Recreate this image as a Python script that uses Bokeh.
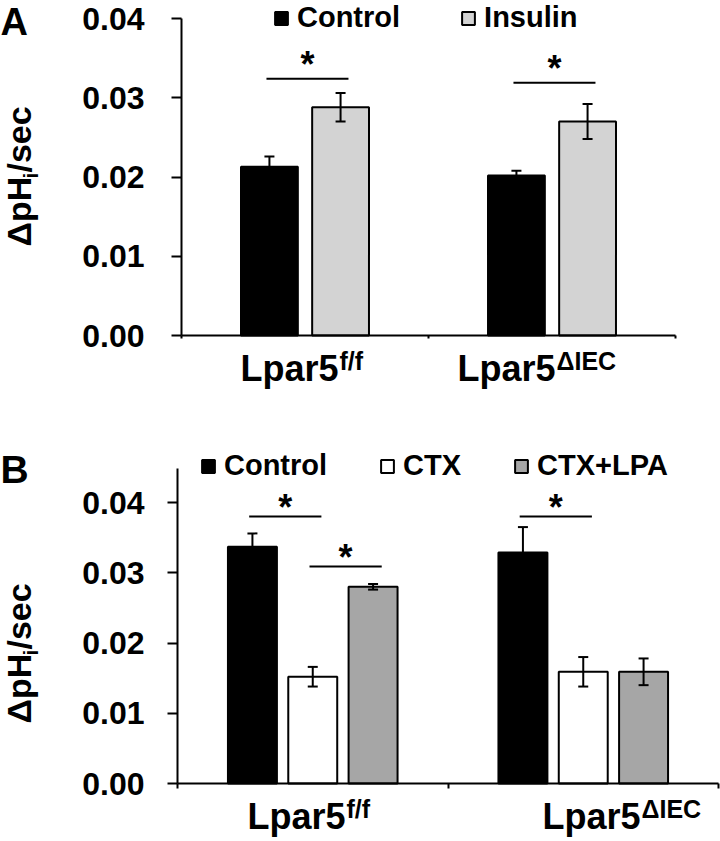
import numpy as np
from bokeh.plotting import figure
from bokeh.models import (Range1d, FixedTicker, PrintfTickFormatter, Whisker,
                          ColumnDataSource, Label, Legend, LegendItem, TeeHead)
from bokeh.layouts import column
from bokeh.embed import file_html
from bokeh.resources import INLINE
from bokeh.core.properties import value

FONT = "Liberation Sans"

# ---------------- data ----------------
groups = ["Lpar5", "Lpar5"]
group_sup = ["f/f", "\u0394IEC"]
y_ticks = [0.0, 0.01, 0.02, 0.03, 0.04]
y_title = ["\u0394pH", "i", "/sec"]

# Panel A
series_a = ["Control", "Insulin"]
control_a = [0.0213, 0.0202]
control_a_err = [0.0013, 0.0006]
insulin_a = [0.0288, 0.0270]
insulin_a_err = [0.0018, 0.0022]
colors_a = ["#000000", "#d3d3d3"]
# significance: (group, left series, right series, height)
sig_a = [(0, 0, 1, 0.0324), (1, 0, 1, 0.0319)]

# Panel B
series_b = ["Control", "CTX", "CTX+LPA"]
control_b = [0.0337, 0.0329]
control_b_err = [0.0019, 0.0036]
ctx_b = [0.0152, 0.0159]
ctx_b_err = [0.0014, 0.0021]
ctxlpa_b = [0.0280, 0.0159]
ctxlpa_b_err = [0.0004, 0.0019]
colors_b = ["#000000", "#ffffff", "#a6a6a6"]
sig_b = [(0, 0, 1, 0.0380), (0, 1, 2, 0.0309), (1, 0, 1, 0.0380)]

W = 720
BASE_SHIFT = 0.41  # em offset between requested anchor and rendered baseline


def make_panel(letter, series, values, errors, colors, sig, *,
               height, ax_left, ax_right, y0_px, y4_px, axis_top,
               offsets, bar_w, x_tick_out, y_standoff, legend_loc, legend_spacing,
               split_px, label_base_px, ylab_x_px, ylab_start_px, letter_base_px,
               letter_size, star_off):
    ux = (ax_right - ax_left) / 2.0          # px per category
    uy = (y0_px - y4_px) / 0.04               # px per data unit
    x_start = -ax_left / ux
    x_end = 2 + (W - ax_right) / ux
    y_start = -(height - y0_px) / uy
    y_end = y0_px / uy

    def dx(px):
        return (px - ax_left) / ux

    def dy(py):
        return (y0_px - py) / uy

    p = figure(width=W, height=height, x_range=Range1d(x_start, x_end),
               y_range=Range1d(y_start, y_end),
               output_backend="svg", toolbar_location=None,
               min_border_left=0, min_border_right=0,
               min_border_top=0, min_border_bottom=0)
    p.outline_line_color = None
    p.grid.visible = False
    p.background_fill_color = "white"

    # axes (drawn at the data origin)
    xa = p.xaxis[0]
    xa.fixed_location = 0
    xa.bounds = (0, 2)
    xa.ticker = FixedTicker(ticks=[0, 1, 2])
    xa.major_label_text_color = None
    xa.axis_line_width = 2
    xa.major_tick_line_width = 2
    xa.major_tick_out = x_tick_out
    xa.major_tick_in = 0
    xa.minor_tick_line_color = None

    ya = p.yaxis[0]
    ya.fixed_location = 0
    ya.ticker = FixedTicker(ticks=y_ticks)
    ya.formatter = PrintfTickFormatter(format="%.2f")
    ya.bounds = (0, axis_top)
    ya.axis_line_width = 2
    ya.major_tick_line_width = 2
    ya.major_tick_out = 10
    ya.major_tick_in = 0
    ya.minor_tick_line_color = None
    ya.major_label_text_font = FONT
    ya.major_label_text_font_style = "bold"
    ya.major_label_text_font_size = "32px"
    ya.major_label_text_color = "black"
    ya.major_label_standoff = y_standoff

    centers = np.arange(len(groups)) + 0.5
    items = []
    for i, (name, vals, errs, col) in enumerate(zip(series, values, errors, colors)):
        xs = centers + offsets[i]
        src = ColumnDataSource(dict(x=xs, top=vals,
                                    upper=np.array(vals) + np.array(errs),
                                    lower=np.array(vals) - np.array(errs)))
        r = p.vbar(x="x", top="top", width=bar_w, source=src, fill_color=col,
                   line_color="black", line_width=2)
        items.append(LegendItem(label=name, renderers=[r]))
        w = Whisker(base="x", upper="upper", lower="lower", source=src,
                    dimension="height", line_color="black", line_width=2,
                    level="annotation",
                    upper_head=TeeHead(size=10, line_width=2, line_color="black"),
                    lower_head=TeeHead(size=10, line_width=2, line_color="black"))
        p.add_layout(w)

    # significance bars
    x0s, x1s, ys = [], [], []
    for g, a, b, h in sig:
        x0s.append(centers[g] + offsets[a] - 0.012)
        x1s.append(centers[g] + offsets[b] + 0.032)
        ys.append(h)
    p.segment(x0=x0s, y0=ys, x1=x1s, y1=ys, line_color="black", line_width=2)
    p.text(x=[(a + b) / 2 for a, b in zip(x0s, x1s)], y=ys, text=["*"] * len(ys),
           text_font=value(FONT), text_font_style="bold", text_font_size="36px",
           text_align="center", text_baseline="alphabetic", y_offset=star_off,
           text_color="black")

    legend = Legend(items=items, orientation="horizontal", location=legend_loc,
                    label_text_font=FONT, label_text_font_style="bold",
                    label_text_font_size="29px", label_text_color="black",
                    glyph_width=16, glyph_height=16, label_standoff=8,
                    spacing=legend_spacing, padding=0, margin=0,
                    border_line_color=None, background_fill_alpha=0)
    p.add_layout(legend)

    def lab(xpx, base_px, text, size, align="left", angle=0.0):
        # rendered baseline sits ~0.41 em below the anchor: compensate
        if angle:
            ax_, ay_ = xpx - BASE_SHIFT * size, base_px
        else:
            ax_, ay_ = xpx, base_px - BASE_SHIFT * size
        p.add_layout(Label(x=dx(ax_), y=dy(ay_), text=text, angle=angle,
                           text_font=FONT, text_font_style="bold",
                           text_font_size=f"{size}px", text_align=align,
                           text_baseline="alphabetic", text_color="black"))

    # category labels with superscripts
    for g, (base, sup) in enumerate(zip(groups, group_sup)):
        lab(split_px[g], label_base_px, base, 36, align="right")
        lab(split_px[g] + 1, label_base_px - 12, sup, 25)

    # y-axis title with subscript (rotated)
    widths = [68, 6]
    yb = ylab_start_px
    lab(ylab_x_px, yb, y_title[0], 34, angle=np.pi / 2)
    lab(ylab_x_px + 7, yb - widths[0], y_title[1], 21, angle=np.pi / 2)
    lab(ylab_x_px, yb - widths[0] - widths[1], y_title[2], 34, angle=np.pi / 2)

    # panel letter
    lab(0, letter_base_px, letter, letter_size)
    return p


pA = make_panel("A", series_a, [control_a, insulin_a], [control_a_err, insulin_a_err],
                colors_a, sig_a,
                height=411, ax_left=181, ax_right=675, y0_px=335, y4_px=18,
                axis_top=0.04, offsets=[-0.144, 0.144], bar_w=0.23, x_tick_out=3,
                y_standoff=27, legend_loc=(273, 377), legend_spacing=60,
                split_px=[338, 555], label_base_px=383,
                ylab_x_px=32, ylab_start_px=246, letter_base_px=37, letter_size=38,
                star_off=-14)

pB = make_panel("B", series_b, [control_b, ctx_b, ctxlpa_b],
                [control_b_err, ctx_b_err, ctxlpa_b_err], colors_b, sig_b,
                height=430, ax_left=177, ax_right=718, y0_px=372, y4_px=91,
                axis_top=0.0448, offsets=[-0.223, 0.0, 0.223], bar_w=0.181, x_tick_out=5,
                y_standoff=23, legend_loc=(200, 359), legend_spacing=52,
                split_px=[345, 640], label_base_px=420,
                ylab_x_px=32, ylab_start_px=312, letter_base_px=74, letter_size=39,
                star_off=-9)

layout = column(pA, pB, spacing=0)
open("out.html", "w").write(file_html(layout, INLINE))
